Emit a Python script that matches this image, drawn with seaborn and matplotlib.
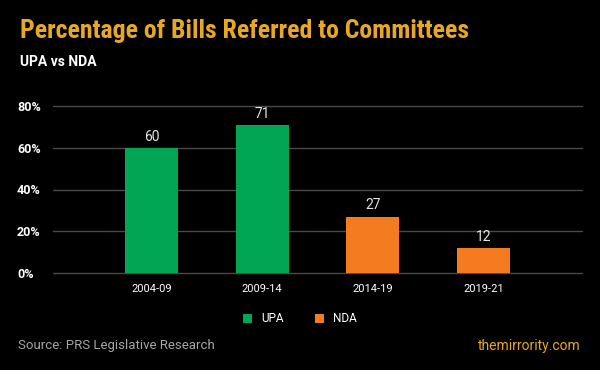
import matplotlib
matplotlib.use("Agg")
import matplotlib.pyplot as plt
import seaborn as sns
import pandas as pd
from matplotlib.patches import Patch

periods = ["2004-09", "2009-14", "2014-19", "2019-21"]
values = [60, 71, 27, 12]
govts = ["UPA", "UPA", "NDA", "NDA"]
yticks = [0, 20, 40, 60, 80]
ytick_labels = ["0%", "20%", "40%", "60%", "80%"]

GREEN = "#00a651"
ORANGE = "#f47b20"
GOLD = "#e9a823"
BG = "#000000"

sns.set_theme(style="dark")
plt.rcParams["font.family"] = ["Roboto", "DejaVu Sans"]

df = pd.DataFrame({"period": periods, "value": values, "gov": govts})

fig = plt.figure(figsize=(6, 3.7), dpi=100, facecolor=BG)
ax = fig.add_axes([53/600, 1-273/370, (582-53)/600, (273-106)/370])
ax.set_facecolor(BG)

sns.barplot(data=df, x="period", y="value", hue="gov", dodge=False,
            palette={"UPA": GREEN, "NDA": ORANGE}, width=0.48,
            saturation=1, ax=ax, legend=False, zorder=3, linewidth=0, edgecolor="none")

ax.set_xlim(-0.89, 3.89)
ax.set_ylim(0, 80)
ax.set_yticks(yticks)
ax.set_yticklabels(ytick_labels)
for lbl in ax.get_yticklabels():
    lbl.set_horizontalalignment("left")
    lbl.set_fontweight("bold")
ax.tick_params(axis="y", length=0, pad=26, labelsize=9, labelcolor="white")
ax.tick_params(axis="x", length=0, pad=8, labelsize=8, labelcolor="white")
ax.set_xlabel("")
ax.set_ylabel("")
ax.grid(axis="y", color="#4a4a4a", linewidth=1, zorder=0)
ax.grid(axis="x", visible=False)
for s in ax.spines.values():
    s.set_visible(False)
for gl in ax.get_ygridlines():
    gl.set_clip_on(False)

for c in ax.containers:
    ax.bar_label(c, fmt="%d", padding=3, color="#e6e6e6", fontsize=10)

handles = [Patch(facecolor=GREEN, edgecolor="none", label="UPA"),
           Patch(facecolor=ORANGE, edgecolor="none", label="NDA")]
leg = fig.legend(handles=handles, loc="center", bbox_to_anchor=(300/600, 1-319/370),
                 ncol=2, frameon=False, fontsize=8.5, labelcolor="white",
                 handlelength=0.75, handleheight=0.75, handletextpad=0.8, columnspacing=2.6)

fig.text(20/600, 1-31/370, "Percentage of Bills Referred to Committees",
         color=GOLD, fontsize=18.5, fontweight="bold", family=["Roboto Condensed", "DejaVu Sans"],
         va="center", ha="left")
fig.text(20/600, 1-62/370, "UPA vs NDA", color="white", fontsize=10, fontweight="bold",
         va="center", ha="left")
fig.text(18/600, 1-346/370, "Source: PRS Legislative Research", color="#a6a6a6", fontsize=9.5,
         va="center", ha="left")
fig.text(581/600, 1-346/370, "themirrority.com", color=GOLD, fontsize=10,
         va="center", ha="right")

fig.savefig("out.png", dpi=100, facecolor=BG)
